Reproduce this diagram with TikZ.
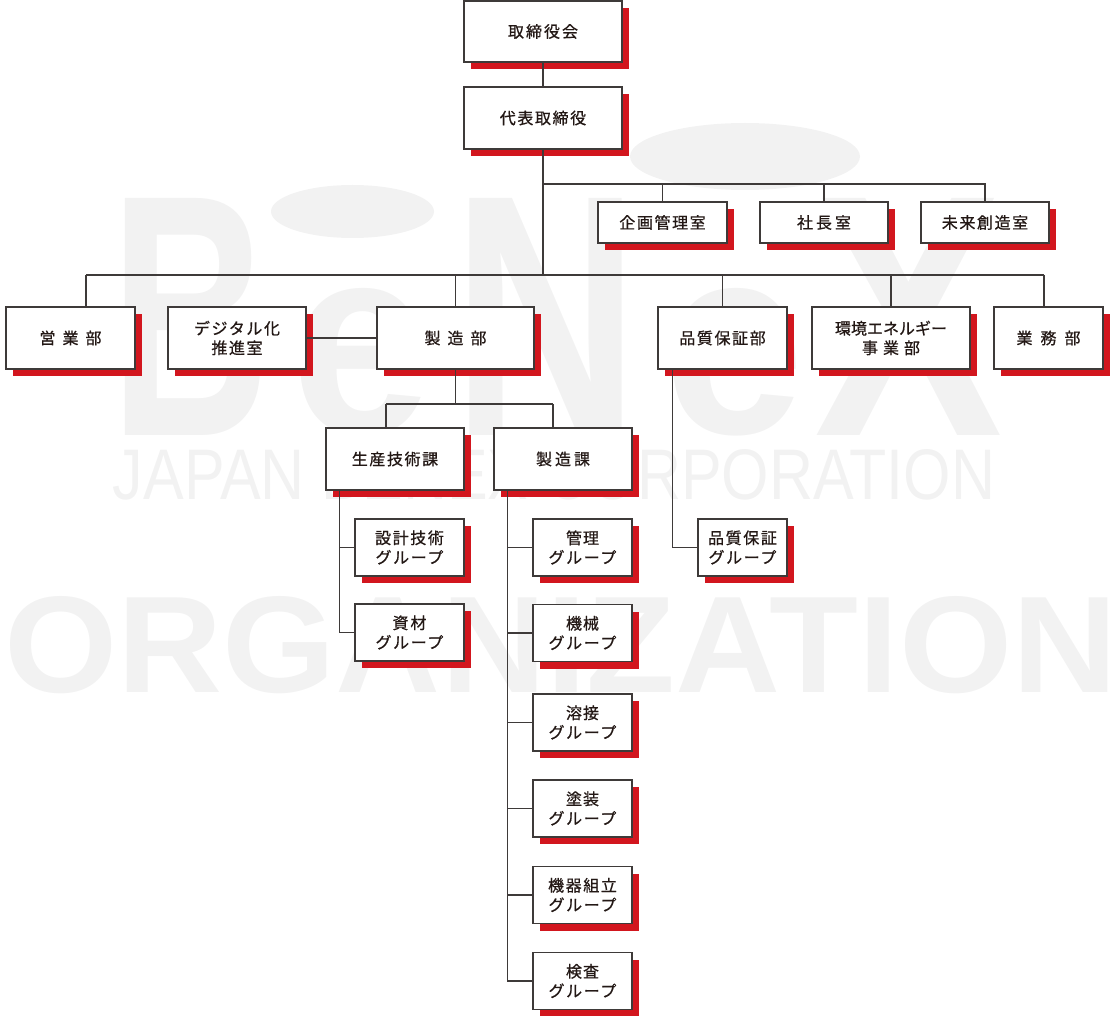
\documentclass[tikz,border=0pt]{standalone}
\usepackage{fontspec}
\usetikzlibrary{shadows}
\newfontfamily\jp{Noto Sans CJK JP}[LetterSpace=10,FakeBold=0.7]
\newfontfamily\wmf{Liberation Sans}
\definecolor{bred}{HTML}{D2161E}
\definecolor{lineclr}{HTML}{3E3A39}
\definecolor{txtclr}{HTML}{231815}
\definecolor{wmclr}{HTML}{F2F2F2}
\newcommand\wsp[1]{\hspace{#1pt}}
\tikzset{
  orgbox/.style={draw=lineclr, line width=1.3pt, fill=white, inner sep=0pt,
    align=center, text=txtclr, font={\jp\fontsize{16pt}{19.5pt}\selectfont},
    drop shadow={shadow xshift=7pt, shadow yshift=-7pt, fill=bred, opacity=1}},
  conn/.style={draw=lineclr, line width=1.1pt},
  wmk/.style={inner sep=0pt, text=wmclr, font=\wmf\bfseries},
  wmkl/.style={inner sep=0pt, text=wmclr, font=\wmf},
}
\begin{document}
\begin{tikzpicture}[x=1pt,y=-1pt]
\useasboundingbox (0,0) rectangle (1117,1016);
% ---- watermark ----
\fill[wmclr] (352.5,211.5) ellipse [x radius=81.5, y radius=26.5];
\fill[wmclr] (745,156.5) ellipse [x radius=115, y radius=33.5];
\node[wmk] (wmB) at (191,316.5) {\resizebox{160pt}{237pt}{B}};
\node[wmk] (wme1) at (361.5,362.5) {\resizebox{141pt}{145pt}{e}};
\node[wmk] (wmN) at (546.5,316.5) {\resizebox{187pt}{237pt}{N}};
\node[wmk] (wme2) at (734.5,362.5) {\resizebox{141pt}{145pt}{e}};
\node[wmk] (wmX) at (909,316.5) {\resizebox{188pt}{237pt}{X}};
\node[wmkl] (wmjapan) at (554,475) {\resizebox{882pt}{50pt}{JAPAN BENEX CORPORATION}};
\node[wmk] (wmorg) at (561,645) {\resizebox{1112pt}{96pt}{ORGANIZATION}};
% ---- boxes ----
\node[orgbox, minimum width=158, minimum height=61] (torishimari) at (543,31.5) {取\wsp{2}締\wsp{2}役\wsp{2}会};
\node[orgbox, minimum width=158, minimum height=62] (daihyo) at (543,118) {代表取締役};
\node[orgbox, minimum width=129, minimum height=41] (kikaku) at (662.5,222.5) {企画管理室};
\node[orgbox, minimum width=128, minimum height=41] (shacho) at (824,222.5) {社\wsp{3}長\wsp{3}室};
\node[orgbox, minimum width=128, minimum height=41] (mirai) at (985,222.5) {未来創造室};
\node[orgbox, minimum width=129, minimum height=62] (eigyo) at (70.5,338) {営\wsp{7}業\wsp{7}部};
\node[orgbox, minimum width=138, minimum height=62] (digital) at (237,338) {デジタル化\\推進室};
\node[orgbox, minimum width=157, minimum height=62] (seizobu) at (455.5,338) {製\wsp{7}造\wsp{7}部};
\node[orgbox, minimum width=129, minimum height=62] (hinshitsu) at (722.5,338) {品質保証部};
\node[orgbox, minimum width=158, minimum height=62] (kankyo) at (891,338) {{\addfontfeatures{LetterSpace=0}環境エネルギー}\\事\wsp{5}業\wsp{5}部};
\node[orgbox, minimum width=109, minimum height=62] (gyomu) at (1048.5,338) {業\wsp{8}務\wsp{8}部};
\node[orgbox, minimum width=138, minimum height=62] (seisan) at (395,459) {生産技術課};
\node[orgbox, minimum width=138, minimum height=62] (seizoka) at (563,459) {製\wsp{3}造\wsp{3}課};
\node[orgbox, minimum width=109, minimum height=57] (sekkei) at (409.5,547.5) {設計技術\\グループ};
\node[orgbox, minimum width=109, minimum height=57] (shizai) at (409.5,632.5) {資\wsp{2}材\\グループ};
\node[orgbox, minimum width=99, minimum height=57] (kanri) at (582.5,547.5) {管\wsp{1}理\\グループ};
\node[orgbox, minimum width=99, minimum height=57] (kikai) at (582.5,633) {機\wsp{1}械\\グループ};
\node[orgbox, minimum width=99, minimum height=57] (yosetsu) at (582.5,722.5) {溶\wsp{1}接\\グループ};
\node[orgbox, minimum width=99, minimum height=57] (toso) at (582.5,808.5) {塗\wsp{1}装\\グループ};
\node[orgbox, minimum width=99, minimum height=57] (kikikumi) at (582.5,895) {機器組立\\グループ};
\node[orgbox, minimum width=99, minimum height=57] (kensa) at (582.5,981) {検\wsp{1}査\\グループ};
\node[orgbox, minimum width=89, minimum height=57] (hgroup) at (742.5,547.5) {品質保証\\グループ};
% ---- connectors ----
\coordinate (j1) at (543,184);
\coordinate (j2) at (543,275);
\coordinate (barL) at (86,275);
\coordinate (barR) at (1044,275);
\draw[conn] (torishimari) -- (daihyo);
\draw[conn] (daihyo.south) -- (j2);
\draw[conn] (j1) -| (mirai.north);
\draw[conn] (j1 -| kikaku.north) -- (kikaku.north);
\draw[conn] (j1 -| shacho.north) -- (shacho.north);
\draw[conn] (barL) -- (barR);
\draw[conn] (barL) -- (barL |- eigyo.north);
\draw[conn] (barR) -- (barR |- gyomu.north);
\draw[conn] (j2 -| seizobu.north) -- (seizobu.north);
\draw[conn] (j2 -| hinshitsu.north) -- (hinshitsu.north);
\draw[conn] (j2 -| kankyo.north) -- (kankyo.north);
\draw[conn] (digital) -- (seizobu);
\coordinate (j3) at (455.5,404);
\coordinate (j3L) at (386,404);
\coordinate (j3R) at (553,404);
\draw[conn] (seizobu.south) -- (j3);
\draw[conn] (j3L) -- (j3R);
\draw[conn] (j3L) -- (j3L |- seisan.north);
\draw[conn] (j3R) -- (j3R |- seizoka.north);
\coordinate (s1) at ([xshift=14pt]seisan.south west);
\draw[conn] (s1) |- (shizai.west);
\draw[conn] (s1 |- sekkei.west) -- (sekkei.west);
\coordinate (s2) at ([xshift=14pt]seizoka.south west);
\draw[conn] (s2) |- (kensa.west);
\draw[conn] (s2 |- kanri.west) -- (kanri.west);
\draw[conn] (s2 |- kikai.west) -- (kikai.west);
\draw[conn] (s2 |- yosetsu.west) -- (yosetsu.west);
\draw[conn] (s2 |- toso.west) -- (toso.west);
\draw[conn] (s2 |- kikikumi.west) -- (kikikumi.west);
\coordinate (h1) at ([xshift=15pt]hinshitsu.south west);
\draw[conn] (h1) |- (hgroup.west);
\end{tikzpicture}
\end{document}
